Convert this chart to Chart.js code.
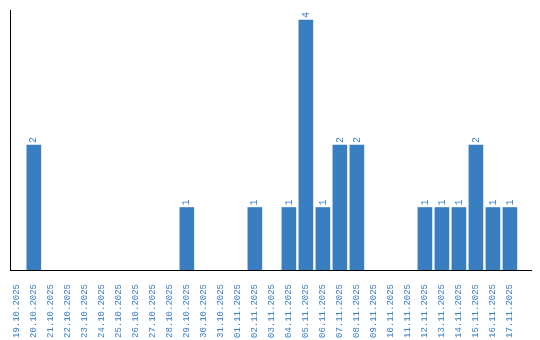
<!DOCTYPE html>
<html>
<head>
<meta charset="utf-8">
<script src="https://cdn.jsdelivr.net/npm/chart.js@4/dist/chart.umd.min.js"></script>
<style>
  html, body { margin: 0; padding: 0; background: #fff; }
  #wrap { width: 540px; height: 340px; }
</style>
</head>
<body>
<div id="wrap"><canvas id="dayChart"></canvas></div>
<script>
// days shown on the x axis
const days = [
    '19.10.2025', '20.10.2025', '21.10.2025', '22.10.2025', '23.10.2025',
    '24.10.2025', '25.10.2025', '26.10.2025', '27.10.2025', '28.10.2025',
    '29.10.2025', '30.10.2025', '31.10.2025', '01.11.2025', '02.11.2025',
    '03.11.2025', '04.11.2025', '05.11.2025', '06.11.2025', '07.11.2025',
    '08.11.2025', '09.11.2025', '10.11.2025', '11.11.2025', '12.11.2025',
    '13.11.2025', '14.11.2025', '15.11.2025', '16.11.2025', '17.11.2025'
];

// count per day
const counts = [
    0, 2, 0, 0, 0, 0, 0, 0, 0, 0,
    1, 0, 0, 0, 1, 0, 1, 4, 1, 2,
    2, 0, 0, 0, 1, 1, 1, 2, 1, 1
];

const blue = '#3a7ec2';
const labelFont = '"Liberation Mono", "DejaVu Sans Mono", monospace';

// draws the value above each bar, turned like the axis labels
const valueLabels = {
    id: 'valueLabels',
    afterDatasetsDraw(chart) {
        const ctx = chart.ctx;
        const meta = chart.getDatasetMeta(0);
        ctx.save();
        ctx.fillStyle = blue;
        ctx.font = '10px ' + labelFont;
        ctx.textAlign = 'left';
        ctx.textBaseline = 'middle';
        meta.data.forEach((bar, i) => {
            if (!counts[i]) return;
            ctx.save();
            ctx.translate(bar.x, bar.y - 2);
            ctx.rotate(-Math.PI / 2);
            ctx.fillText(String(counts[i]), 0, 0);
            ctx.restore();
        });
        ctx.restore();
    }
};

new Chart(document.getElementById('dayChart'), {
    type: 'bar',
    data: {
        datasets: [{
            // empty days get no bar at all
            data: counts.map((v, i) => ({ x: i, y: v || null })),
            backgroundColor: blue,
            barThickness: 14
        }]
    },
    options: {
        responsive: true,
        maintainAspectRatio: false,
        animation: false,
        layout: { padding: { top: 10, left: 10, right: 9, bottom: 0 } },
        plugins: {
            legend: { display: false },
            tooltip: { enabled: false }
        },
        scales: {
            x: {
                type: 'linear',
                offset: false,
                min: -0.4,
                max: 30.24,
                grid: { display: false },
                border: { color: '#000', width: 1 },
                afterBuildTicks: scale => {
                    scale.ticks = days.map((d, i) => ({ value: i }));
                },
                afterFit: scale => { scale.height = 70; },
                ticks: {
                    autoSkip: false,
                    minRotation: 90,
                    maxRotation: 90,
                    padding: 6,
                    color: blue,
                    font: { family: labelFont, size: 9 },
                    callback: v => days[v] || ''
                }
            },
            y: {
                min: 0,
                max: 4.16,
                grid: { display: false },
                border: { color: '#000', width: 1 },
                afterFit: scale => { scale.width = 0; },
                ticks: { display: false }
            }
        }
    },
    plugins: [valueLabels]
});
</script>
</body>
</html>
